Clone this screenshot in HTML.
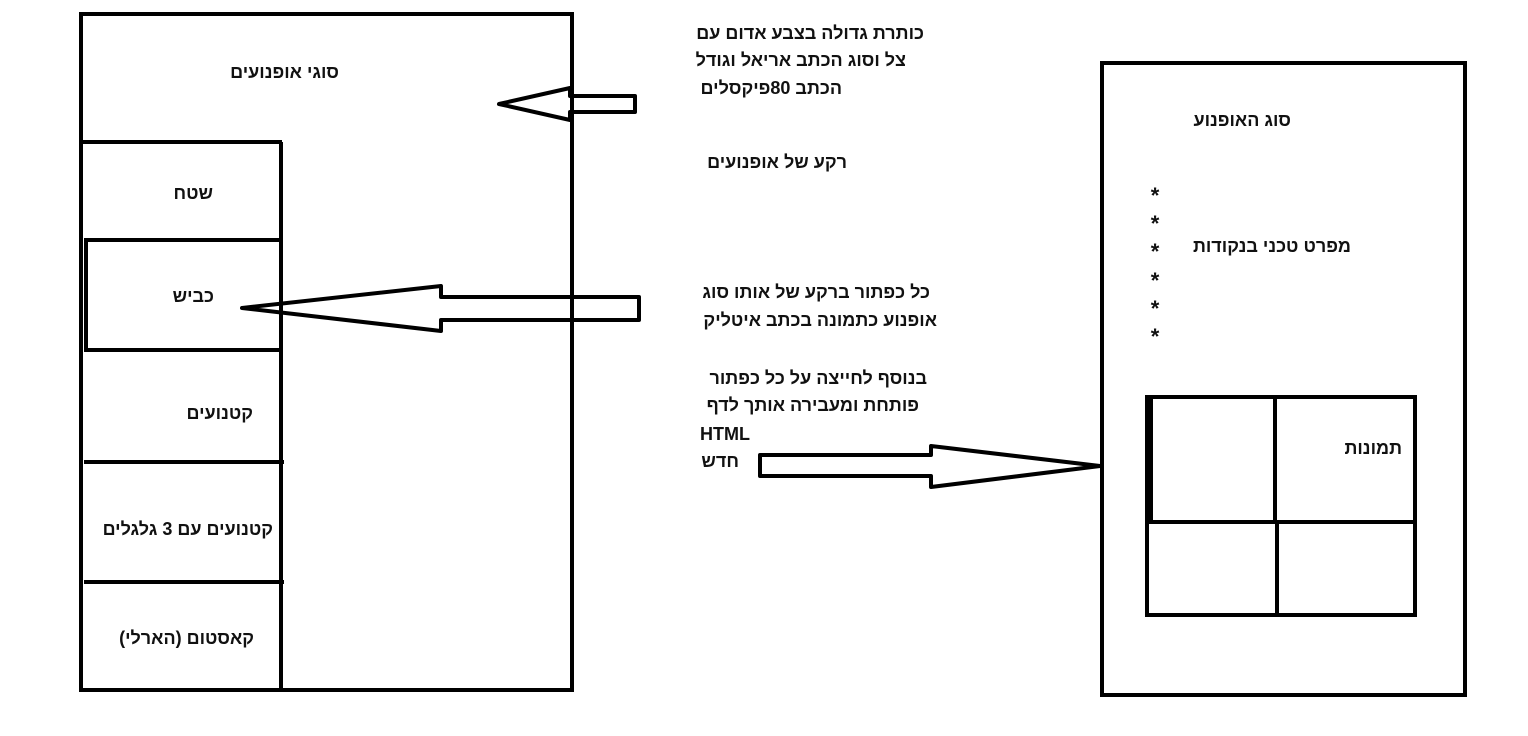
<!DOCTYPE html>
<html><head><meta charset="utf-8"><style>
html,body{margin:0;padding:0;background:#fff;}
svg text{font-family:"Liberation Sans","DejaVu Sans",sans-serif;font-size:18px;font-weight:bold;fill:#111;}
svg text.ast{font-size:22px;}
</style></head><body>
<svg width="1528" height="731" xmlns="http://www.w3.org/2000/svg">
<g fill="none" stroke="#000" stroke-width="4">
<rect x="81" y="14" width="491" height="676"/>
<line x1="83" y1="142" x2="282" y2="142"/>
<line x1="281" y1="142" x2="281" y2="690"/>
<line x1="84" y1="240" x2="282" y2="240"/>
<line x1="86" y1="240" x2="86" y2="349"/>
<line x1="84" y1="350" x2="282" y2="350"/>
<line x1="84" y1="462" x2="284" y2="462"/>
<line x1="84" y1="582" x2="284" y2="582"/>
<polygon points="499,104 570,88 570,96 635,96 635,112 570,112 570,120" stroke-linejoin="round"/>
<polygon points="242,308 441,286 441,297 639,297 639,320 441,320 441,331" stroke-linejoin="round"/>
<polygon points="1100,466 931,446 931,455 760,455 760,476 931,476 931,487" stroke-linejoin="round"/>
<rect x="1102" y="63" width="363" height="632"/>
<rect x="1147" y="397" width="268" height="218"/>
<line x1="1275" y1="397" x2="1275" y2="522"/>
<line x1="1277" y1="522" x2="1277" y2="615"/>
<line x1="1147" y1="522" x2="1415" y2="522"/>
<line x1="1150" y1="397" x2="1150" y2="522" stroke-width="6"/>
</g>
<g direction="rtl" text-anchor="start">
<text x="339" y="78">סוגי אופנועים</text>
<text x="213" y="199">שטח</text>
<text x="214" y="302">כביש</text>
<text x="253" y="419">קטנועים</text>
<text x="273" y="535">קטנועים עם 3 גלגלים</text>
<text x="254" y="644">קאסטום (הארלי)</text>
<text x="924" y="39">כותרת גדולה בצבע אדום עם</text>
<text x="906" y="66">צל וסוג הכתב אריאל וגודל</text>
<text x="842" y="94">הכתב 80פיקסלים</text>
<text x="847" y="168">רקע של אופנועים</text>
<text x="930" y="298">כל כפתור ברקע של אותו סוג</text>
<text x="937" y="326">אופנוע כתמונה בכתב איטליק</text>
<text x="927" y="384">בנוסף לחייצה על כל כפתור</text>
<text x="919" y="411">פותחת ומעבירה אותך לדף</text>
<text x="739" y="467">חדש</text>
<text x="1291" y="126">סוג האופנוע</text>
<text x="1351" y="252">מפרט טכני בנקודות</text>
<text x="1402" y="454">תמונות</text>
</g>
<text x="700" y="440">HTML</text>
<g text-anchor="middle">
<text class="ast" x="1155" y="203">*</text><text class="ast" x="1155" y="231">*</text><text class="ast" x="1155" y="259">*</text>
<text class="ast" x="1155" y="288">*</text><text class="ast" x="1155" y="316">*</text><text class="ast" x="1155" y="344">*</text>
</g>
</svg>
</body></html>
